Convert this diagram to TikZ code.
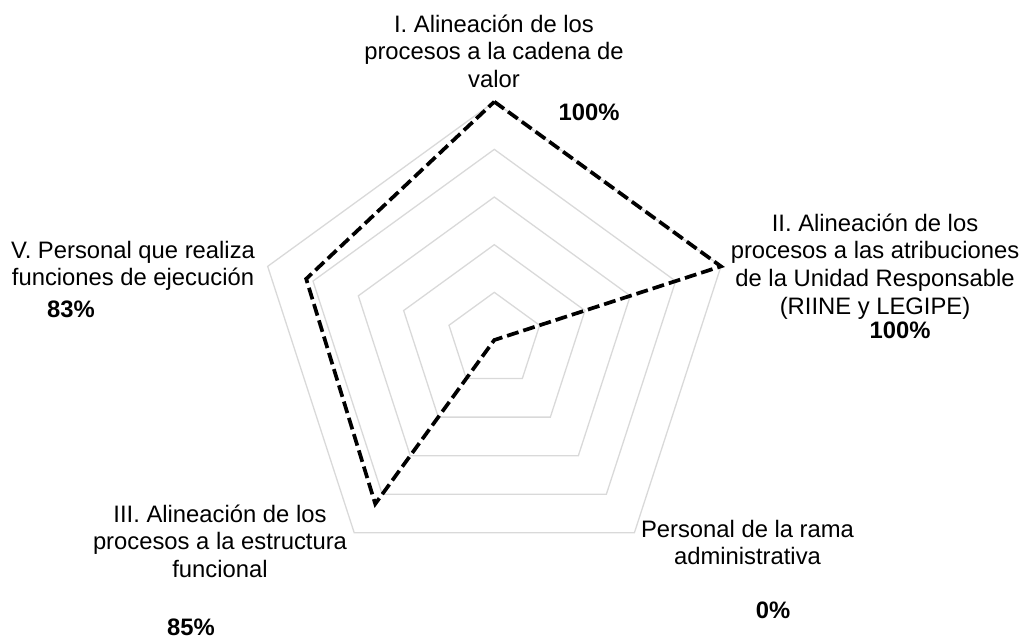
\documentclass[tikz,border=0pt]{standalone}
\usepackage{fontspec}
\setmainfont{Liberation Sans}
\definecolor{gridgray}{HTML}{D9D9D9}
\newcommand\mlines[1]{\vtop{\baselineskip=27.8pt\halign{\hfil##\hfil\cr#1\crcr}}}
\tikzset{
  gridline/.style={draw=gridgray, line width=1.3pt, line join=miter},
  dataline/.style={draw=black, line width=3.7pt, dash pattern=on 12pt off 5pt, line join=miter},
  lbl/.style={font=\fontsize{23.8pt}{27.8pt}\selectfont, inner sep=0pt, anchor=base, text=black},
  val/.style={font=\fontsize{23.8pt}{27.8pt}\selectfont\bfseries, inner sep=0pt, anchor=base, text=black}
}
\begin{document}
\begin{tikzpicture}[x=1pt,y=-1pt]
\useasboundingbox (0,0) rectangle (1024,638);
\coordinate (O) at (494.3,340);
\begin{scope}[shift={(O)}]
  \foreach \k in {1,...,5}{
    \draw[gridline] (-90:{\k*47.66}) -- (-18:{\k*47.66}) -- (54:{\k*47.66}) -- (126:{\k*47.66}) -- (198:{\k*47.66}) -- cycle;
  }
  \coordinate (pI) at (-90:238.3);
  \coordinate (pII) at (-18:238.3);
  \coordinate (pAdm) at (0,0);
  \coordinate (pIII) at (126:202.555);
  \coordinate (pV) at (198:197.79);
  \draw[dataline] (pI) -- (pII) -- (pAdm) -- (pIII) -- (pV) -- cycle;
\end{scope}
% category labels
\node[lbl] (lblI) at (494,32) {\mlines{I. Alineación de los\cr procesos a la cadena de\cr valor}};
\node[lbl] (lblII) at (875,231) {\mlines{II. Alineación de los\cr procesos a las atribuciones\cr de la Unidad Responsable\cr (RIINE y LEGIPE)}};
\node[lbl] (lblAdm) at (747.5,537) {\mlines{Personal de la rama\cr administrativa}};
\node[lbl] (lblIII) at (220,522) {\mlines{III. Alineación de los\cr procesos a la estructura\cr funcional}};
\node[lbl] (lblV) at (133,258) {\mlines{V. Personal que realiza\cr funciones de ejecución}};
% value labels
\node[val] (valI) at (589,120) {100\%};
\node[val] (valII) at (900,338) {100\%};
\node[val] (valAdm) at (773,618) {0\%};
\node[val] (valIII) at (191,635) {85\%};
\node[val] (valV) at (71,317) {83\%};
\end{tikzpicture}
\end{document}
